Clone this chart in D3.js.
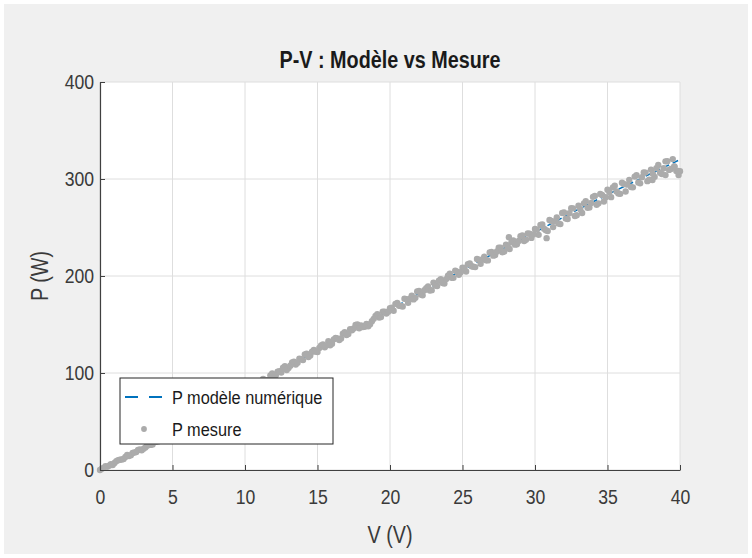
<!DOCTYPE html>
<html>
<head>
<meta charset="utf-8">
<script src="https://cdn.jsdelivr.net/npm/d3@7"></script>
<style>
  body { margin: 0; background: #ffffff; }
  text { font-family: "Liberation Sans", Arial, sans-serif; transform-box: fill-box; transform-origin: center; }
  .narrow { transform: scaleX(0.86); }
  .narrowRight { transform: scaleX(0.84); transform-origin: right center; }
  .narrowX { transform: scaleX(0.84); }
  .narrowLeft { transform: scaleX(0.86); transform-origin: left center; }
</style>
</head>
<body>
<div id="chart"></div>
<script>
// chart values
const chartTitle = "P-V : Modèle vs Mesure";
const xTicks = [0, 5, 10, 15, 20, 25, 30, 35, 40];
const yTicks = [0, 100, 200, 300, 400];
const legendLabels = ["P modèle numérique", "P mesure"];

// model curve (dashed blue)
const modelV = [0, 2.5, 5, 7.5, 10, 12.5, 15, 17.5, 20, 22.5, 25, 27.5, 30, 32.5, 35, 37.5, 40];
const modelP = [0, 18, 37.5, 58, 80.5, 102, 124, 144.5, 165, 186, 206, 226, 245, 265, 284, 302, 320];

// measured points (grey dots), first pass
const measV = [
  0, 0.25, 0.5, 0.75, 1, 1.25, 1.5, 1.75, 2, 2.25, 2.5, 2.75, 3, 3.25, 3.5, 3.75, 4, 4.25, 4.5, 4.75,
  5, 5.25, 5.5, 5.75, 6, 6.25, 6.5, 6.75, 7, 7.25, 7.5, 7.75, 8, 8.25, 8.5, 8.75, 9, 9.25, 9.5, 9.75,
  10, 10.25, 10.5, 10.75, 11, 11.25, 11.5, 11.75, 12, 12.25, 12.5, 12.75, 13, 13.25, 13.5, 13.75, 14, 14.25, 14.5, 14.75,
  15, 15.25, 15.5, 15.75, 16, 16.25, 16.5, 16.75, 17, 17.25, 17.5, 17.75, 18, 18.25, 18.5, 18.75, 19, 19.25, 19.5, 19.75,
  20, 20.25, 20.5, 20.75, 21, 21.25, 21.5, 21.75, 22, 22.25, 22.5, 22.75, 23, 23.25, 23.5, 23.75, 24, 24.25, 24.5, 24.75,
  25, 25.25, 25.5, 25.75, 26, 26.25, 26.5, 26.75, 27, 27.25, 27.5, 27.75, 28, 28.25, 28.5, 28.75, 29, 29.25, 29.5, 29.75,
  30, 30.25, 30.5, 30.75, 31, 31.25, 31.5, 31.75, 32, 32.25, 32.5, 32.75, 33, 33.25, 33.5, 33.75, 34, 34.25, 34.5, 34.75,
  35, 35.25, 35.5, 35.75, 36, 36.25, 36.5, 36.75, 37, 37.25, 37.5, 37.75, 38, 38.25, 38.5, 38.75, 39, 39.25, 39.5, 39.75,
  40, 28.2, 30.8, 38.1, 39.0, 39.6, 39.9
];
const measP = [
  0, 2.2, 3.4, 6.1, 7.2, 10.0, 10.8, 13.5, 14.4, 17.6, 18.5, 21.1, 21.8, 25.0, 25.9, 28.9, 29.5, 32.3, 33.0, 36.2,
  37.2, 40.6, 41.2, 44.5, 45.3, 49.0, 50.0, 53.5, 54.0, 57.4, 58.1, 62.0, 62.8, 66.5, 66.9, 70.4, 70.9, 75.0, 75.6, 79.2,
  79.6, 84.8, 83.1, 88.5, 87.0, 93.8, 92.4, 97.6, 95.4, 101.4, 100.4, 107.0, 105.2, 111.0, 108.7, 114.8, 113.3, 120.0, 118.1, 123.8,
  121.6, 128.4, 126.6, 132.8, 130.1, 136.1, 133.9, 140.6, 139.1, 145.2, 146.0, 150.1, 149.1, 147.7, 148.2, 153.3, 158.7, 157.1, 163.3, 161.4,
  166.8, 164.2, 172.2, 169.0, 176.6, 172.3, 179.8, 177.5, 184.7, 180.1, 187.5, 185.0, 193.2, 189.6, 196.6, 192.3, 200.2, 198.2, 205.4, 201.2,
  208.6, 204.7, 212.9, 209.5, 217.6, 212.7, 220.0, 216.1, 224.8, 221.6, 229.2, 224.5, 232.2, 227.9, 236.7, 232.7, 241.1, 236.0, 243.8, 239.3,
  248.5, 242.4, 253.1, 247.1, 257.8, 250.4, 260.3, 253.5, 265.4, 258.7, 269.8, 261.8, 272.5, 264.9, 277.2, 270.7, 281.6, 273.4, 284.5, 276.8,
  289.0, 281.3, 293.1, 285.1, 296.1, 287.1, 299.1, 291.4, 303.8, 295.5, 306.7, 297.8, 309.7, 302.2, 314.4, 305.2, 318.2, 309.4, 320.5, 308.3,
  308.0, 240, 239, 299, 304, 313, 304
];

// measured points, second pass (in between)
const measV2 = [
  0.125, 0.375, 0.625, 0.875, 1.125, 1.375, 1.625, 1.875, 2.125, 2.375, 2.625, 2.875, 3.125, 3.375, 3.625, 3.875, 4.125, 4.375, 4.625, 4.875,
  5.125, 5.375, 5.625, 5.875, 6.125, 6.375, 6.625, 6.875, 7.125, 7.375, 7.625, 7.875, 8.125, 8.375, 8.625, 8.875, 9.125, 9.375, 9.625, 9.875,
  10.125, 10.375, 10.625, 10.875, 11.125, 11.375, 11.625, 11.875, 12.125, 12.375, 12.625, 12.875, 13.125, 13.375, 13.625, 13.875, 14.125, 14.375, 14.625, 14.875,
  15.125, 15.375, 15.625, 15.875, 16.125, 16.375, 16.625, 16.875, 17.125, 17.375, 17.625, 17.875, 18.125, 18.375, 18.625, 18.875, 19.125, 19.375, 19.625, 19.875,
  20.125, 20.375, 20.625, 20.875, 21.125, 21.375, 21.625, 21.875, 22.125, 22.375, 22.625, 22.875, 23.125, 23.375, 23.625, 23.875, 24.125, 24.375, 24.625, 24.875,
  25.125, 25.375, 25.625, 25.875, 26.125, 26.375, 26.625, 26.875, 27.125, 27.375, 27.625, 27.875, 28.125, 28.375, 28.625, 28.875, 29.125, 29.375, 29.625, 29.875,
  30.125, 30.375, 30.625, 30.875, 31.125, 31.375, 31.625, 31.875, 32.125, 32.375, 32.625, 32.875, 33.125, 33.375, 33.625, 33.875, 34.125, 34.375, 34.625, 34.875,
  35.125, 35.375, 35.625, 35.875, 36.125, 36.375, 36.625, 36.875, 37.125, 37.375, 37.625, 37.875, 38.125, 38.375, 38.625, 38.875, 39.125, 39.375, 39.625, 39.875
];
const measP2 = [
  1.4, 4.0, 4.4, 5.2, 9.2, 10.5, 11.3, 15.4, 15.3, 18.1, 20.7, 20.4, 23.3, 26.2, 26.4, 29.1, 32.3, 31.8, 35.3, 36.1,
  39.0, 41.9, 42.6, 43.7, 47.9, 49.5, 50.6, 55.0, 55.2, 58.2, 61.1, 61.0, 64.2, 67.4, 67.9, 70.8, 74.3, 74.1, 77.9, 79.0,
  82.5, 86.2, 85.3, 85.4, 91.8, 92.8, 92.8, 99.5, 97.8, 101.8, 105.4, 103.1, 107.4, 111.7, 110.5, 114.2, 119.1, 116.5, 121.9, 122.0,
  125.9, 129.5, 128.5, 128.5, 134.7, 135.6, 135.5, 142.1, 140.2, 144.1, 149.6, 146.2, 147.3, 150.5, 150.2, 155.8, 160.5, 157.8, 163.1, 163.1,
  167.2, 171.3, 169.3, 168.6, 176.2, 176.7, 175.9, 184.0, 180.8, 185.3, 189.3, 185.4, 190.2, 195.1, 192.7, 196.8, 202.4, 198.1, 204.5, 203.8,
  208.2, 212.1, 210.1, 209.2, 216.8, 217.1, 216.3, 224.2, 221.0, 225.3, 229.3, 225.2, 230.0, 234.7, 232.3, 236.2, 241.8, 237.3, 243.7, 242.8,
  247.8, 252.7, 248.7, 246.4, 256.8, 256.3, 254.1, 265.0, 259.2, 264.7, 269.7, 262.6, 268.8, 274.9, 270.3, 275.2, 282.6, 274.9, 283.5, 281.2,
  286.7, 291.4, 287.2, 284.7, 294.9, 294.2, 291.8, 302.5, 296.5, 301.8, 306.6, 299.3, 305.3, 311.2, 306.4, 311.1, 318.3, 310.4, 312.8, 308.3
];

function drawChart() {
    const W = 752, H = 558;
    const margin = {top: 82, right: 72, bottom: 88, left: 100};
    const width = W - margin.left - margin.right;   // 580
    const height = H - margin.top - margin.bottom;  // 388

    const svg = d3.select("#chart")
        .append("svg")
        .attr("width", W)
        .attr("height", H);

    // figure background (matlab grey)
    svg.append("rect")
        .attr("x", 4).attr("y", 4)
        .attr("width", W - 8).attr("height", H - 8)
        .attr("fill", "#f0f0f0");

    const g = svg.append("g")
        .attr("transform", `translate(${margin.left}, ${margin.top})`);

    const xScale = d3.scaleLinear().domain([0, 40]).range([0, width]);
    const yScale = d3.scaleLinear().domain([0, 400]).range([height, 0]);

    // plot area
    g.append("rect")
        .attr("width", width)
        .attr("height", height)
        .attr("fill", "#ffffff");

    // grid
    g.selectAll(".xgrid")
        .data(xTicks)
        .join("line")
        .attr("class", "xgrid")
        .attr("x1", d => xScale(d)).attr("x2", d => xScale(d))
        .attr("y1", 0).attr("y2", height)
        .attr("stroke", "#dedede");
    g.selectAll(".ygrid")
        .data(yTicks)
        .join("line")
        .attr("class", "ygrid")
        .attr("y1", d => yScale(d)).attr("y2", d => yScale(d))
        .attr("x1", 0).attr("x2", width)
        .attr("stroke", "#dedede");

    // model line, drawn under the dots
    const line = d3.line()
        .x((d, i) => xScale(modelV[i]))
        .y(d => yScale(d));
    g.append("path")
        .datum(modelP)
        .attr("d", line)
        .attr("fill", "none")
        .attr("stroke", "#0072bd")
        .attr("stroke-width", 1.6)
        .attr("stroke-dasharray", "6,4");

    // measured dots, both passes
    const points = measV.map((v, i) => [v, measP[i]])
        .concat(measV2.map((v, i) => [v, measP2[i]]));
    g.selectAll(".dot")
        .data(points)
        .join("circle")
        .attr("class", "dot")
        .attr("cx", d => xScale(d[0]))
        .attr("cy", d => yScale(d[1]))
        .attr("r", 3.2)
        .attr("fill", "#ababab");

    // axes, ticks inside like matlab
    const xAxis = g.append("g")
        .attr("transform", `translate(0, ${height})`)
        .call(d3.axisBottom(xScale).tickValues(xTicks).tickSize(-5).tickSizeOuter(0).tickPadding(19));
    const yAxis = g.append("g")
        .call(d3.axisLeft(yScale).tickValues(yTicks).tickSize(-5).tickSizeOuter(0).tickPadding(6));
    [xAxis, yAxis].forEach(ax => {
        ax.select(".domain").attr("stroke", "#404040").attr("stroke-width", 1.2);
        ax.selectAll(".tick line").attr("stroke", "#404040");
        ax.selectAll(".tick text")
            .attr("fill", "#3a3a3a")
            .style("font-size", "21px")
            .style("font-family", '"Liberation Sans", Arial, sans-serif');
    });
    xAxis.selectAll(".tick text").attr("class", "narrowX");
    yAxis.selectAll(".tick text").attr("class", "narrowRight");

    // title
    svg.append("text")
        .attr("class", "narrow")
        .attr("x", margin.left + width / 2)
        .attr("y", 68)
        .attr("text-anchor", "middle")
        .style("font-size", "23px")
        .style("font-weight", "bold")
        .attr("fill", "#1a1a1a")
        .text(chartTitle);

    // axis labels
    svg.append("text")
        .attr("class", "narrow")
        .attr("x", margin.left + width / 2)
        .attr("y", 543)
        .attr("text-anchor", "middle")
        .style("font-size", "23px")
        .attr("fill", "#3a3a3a")
        .text("V (V)");
    svg.append("g")
        .attr("transform", `translate(48, ${margin.top + height / 2}) rotate(-90)`)
        .append("text")
        .attr("class", "narrow")
        .attr("text-anchor", "middle")
        .style("font-size", "23px")
        .attr("fill", "#3a3a3a")
        .text("P (W)");

    // legend box
    const lg = svg.append("g").attr("transform", "translate(120, 378)");
    lg.append("rect")
        .attr("width", 213).attr("height", 66)
        .attr("fill", "#ffffff")
        .attr("stroke", "#262626")
        .attr("stroke-width", 1);
    lg.append("line")
        .attr("x1", 5).attr("x2", 42)
        .attr("y1", 19).attr("y2", 19)
        .attr("stroke", "#0072bd")
        .attr("stroke-width", 2)
        .attr("stroke-dasharray", "13,11");
    lg.append("circle")
        .attr("cx", 24).attr("cy", 51).attr("r", 2.9)
        .attr("fill", "#ababab");
    lg.selectAll(".legText")
        .data(legendLabels)
        .join("text")
        .attr("class", "legText narrowLeft")
        .attr("x", 52)
        .attr("y", (d, i) => 26 + i * 32)
        .style("font-size", "19px")
        .attr("fill", "#1a1a1a")
        .text(d => d);
}

drawChart();
</script>
</body>
</html>
